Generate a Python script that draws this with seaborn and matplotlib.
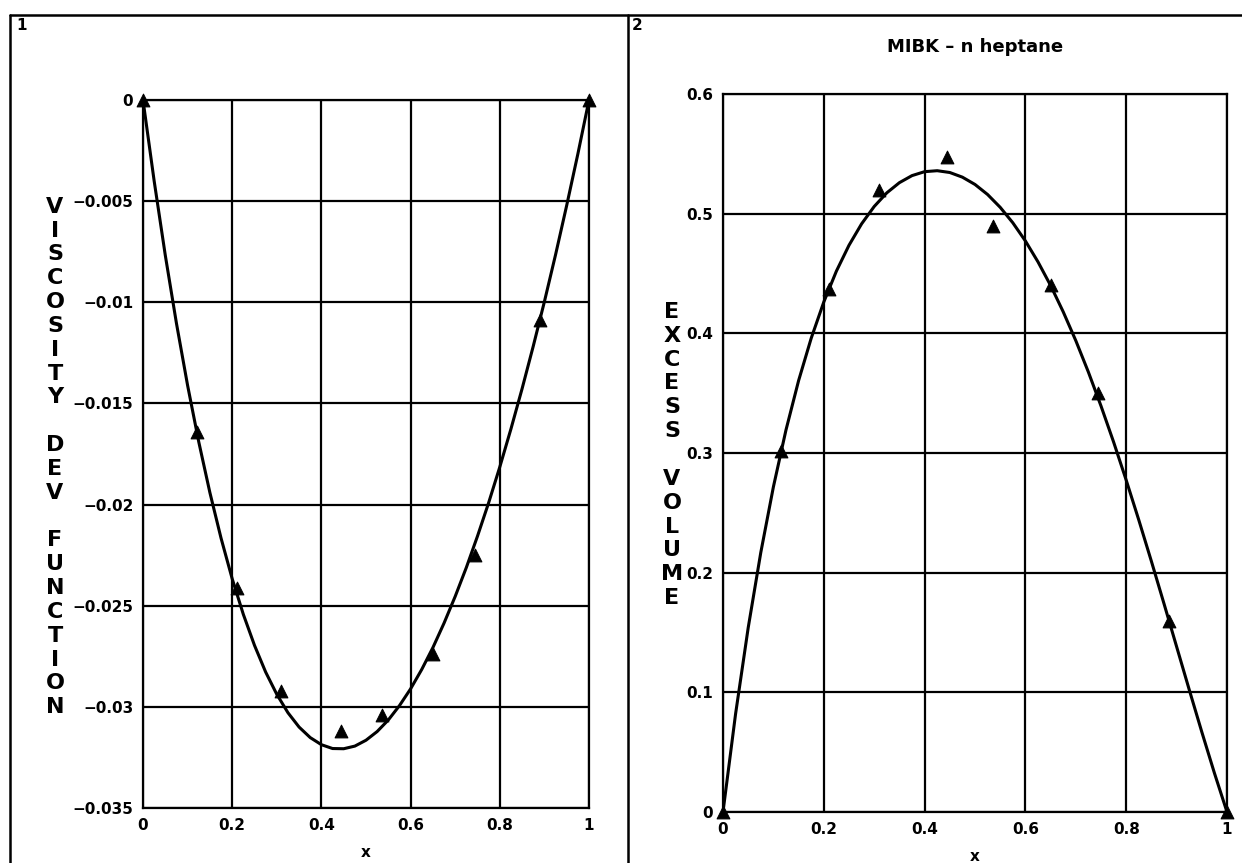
import matplotlib
matplotlib.use("Agg")
import matplotlib.pyplot as plt
import seaborn as sns
import pandas as pd
from matplotlib.lines import Line2D
from matplotlib.ticker import FuncFormatter, MultipleLocator

# ---------------- data ----------------
# Panel 1: viscosity deviation function
visc_x_pts = [0.0, 0.12, 0.21, 0.31, 0.445, 0.535, 0.65, 0.745, 0.89, 1.0]
visc_y_pts = [0.0, -0.0164, -0.0241, -0.0292, -0.0312, -0.0304, -0.0274, -0.0225, -0.0109, 0.0]
fit_x = [0.0, 0.025, 0.05, 0.075, 0.1, 0.125, 0.15, 0.175, 0.2, 0.225, 0.25, 0.275,
         0.3, 0.325, 0.35, 0.375, 0.4, 0.425, 0.45, 0.475, 0.5, 0.525, 0.55, 0.575,
         0.6, 0.625, 0.65, 0.675, 0.7, 0.725, 0.75, 0.775, 0.8, 0.825, 0.85, 0.875,
         0.9, 0.925, 0.95, 0.975, 1.0]
visc_y_fit = [0.0, -0.00400, -0.00768, -0.01104, -0.01411, -0.01690, -0.01941, -0.02166,
              -0.02367, -0.02543, -0.02696, -0.02828, -0.02938, -0.03029, -0.03100,
              -0.03152, -0.03187, -0.03206, -0.03207, -0.03194, -0.03165, -0.03122,
              -0.03065, -0.02994, -0.02911, -0.02815, -0.02707, -0.02586, -0.02454,
              -0.02311, -0.02156, -0.01991, -0.01814, -0.01626, -0.01427, -0.01217,
              -0.00997, -0.00765, -0.00521, -0.00267, 0.0]

# Panel 2: excess volume, MIBK - n heptane
vol_x_pts = [0.0, 0.115, 0.21, 0.31, 0.445, 0.535, 0.65, 0.745, 0.885, 1.0]
vol_y_pts = [0.0, 0.302, 0.437, 0.52, 0.547, 0.49, 0.44, 0.35, 0.16, 0.0]
vol_y_fit = [0.0, 0.0821, 0.1540, 0.2169, 0.2717, 0.3193, 0.3605, 0.3959, 0.4262,
             0.4520, 0.4736, 0.4915, 0.5060, 0.5174, 0.5259, 0.5318, 0.5351, 0.5359,
             0.5344, 0.5305, 0.5244, 0.5160, 0.5053, 0.4924, 0.4772, 0.4597, 0.4400,
             0.4180, 0.3939, 0.3676, 0.3393, 0.3092, 0.2773, 0.2440, 0.2095, 0.1741,
             0.1382, 0.1023, 0.0669, 0.0326, 0.0]

x_ticks = [0, 0.2, 0.4, 0.6, 0.8, 1.0]
visc_label = "VISCOSITY DEV FUNCTION"
vol_label = "EXCESS VOLUME"
title2 = "MIBK \u2013 n heptane"
x_label = "x"

# ---------------- style ----------------
sns.set_theme(style="white")
plt.rcParams["font.family"] = ["DejaVu Sans"]
plt.rcParams["font.weight"] = "bold"
plt.rcParams["text.color"] = "black"
plt.rcParams["axes.labelcolor"] = "black"
plt.rcParams["xtick.color"] = "black"
plt.rcParams["ytick.color"] = "black"

W, H = 1242, 863
fig = plt.figure(figsize=(W / 100, H / 100), dpi=100)
fig.patch.set_facecolor("white")


def px_axes(x0, y0, x1, y1):
    return fig.add_axes([x0 / W, 1 - y1 / H, (x1 - x0) / W, (y1 - y0) / H])


ax1 = px_axes(143, 100, 589, 808)
ax2 = px_axes(723, 94, 1227, 812)

LW_GRID = 1.6
LW_CURVE = 2.2


def fmt(v, pos):
    if abs(v) < 1e-12:
        return "0"
    s = f"{v:g}"
    return s.replace("-", "\u2212")


def vertical(text):
    return "\n".join(" " if c == " " else c for c in text)


def style_axes(ax, ylo, yhi, ystep):
    ax.set_xlim(0, 1)
    ax.set_ylim(ylo, yhi)
    ax.set_xticks(x_ticks)
    ax.yaxis.set_major_locator(MultipleLocator(ystep))
    ax.xaxis.set_major_formatter(FuncFormatter(fmt))
    ax.yaxis.set_major_formatter(FuncFormatter(fmt))
    ax.grid(True, color="black", linewidth=LW_GRID)
    for sp in ax.spines.values():
        sp.set_color("black")
        sp.set_linewidth(LW_GRID)
    ax.tick_params(axis="both", which="major", direction="out", length=5, width=LW_GRID,
                   color="black", labelcolor="black", labelsize=11, pad=2)
    for lab in ax.get_xticklabels() + ax.get_yticklabels():
        lab.set_fontweight("bold")
    ax.set_facecolor("white")


# Panel 1
df1_fit = pd.DataFrame({"x": fit_x, "y": visc_y_fit})
df1_pts = pd.DataFrame({"x": visc_x_pts, "y": visc_y_pts})
sns.lineplot(data=df1_fit, x="x", y="y", ax=ax1, color="black", linewidth=LW_CURVE, sort=True)
sns.scatterplot(data=df1_pts, x="x", y="y", ax=ax1, marker="^", color="black",
                edgecolor="black", s=85, zorder=5, clip_on=False)
style_axes(ax1, -0.035, 0.0, 0.005)
ax1.set_xlabel(x_label, fontsize=11, fontweight="bold", labelpad=9, color="black")
ax1.set_ylabel("")
fig.text(55 / W, 1 - 457 / H, vertical(visc_label), ha="center", va="center",
         fontsize=16, fontweight="bold", linespacing=1.24, color="black")

# Panel 2
df2_fit = pd.DataFrame({"x": fit_x, "y": vol_y_fit})
df2_pts = pd.DataFrame({"x": vol_x_pts, "y": vol_y_pts})
sns.lineplot(data=df2_fit, x="x", y="y", ax=ax2, color="black", linewidth=LW_CURVE, sort=True)
sns.scatterplot(data=df2_pts, x="x", y="y", ax=ax2, marker="^", color="black",
                edgecolor="black", s=85, zorder=5, clip_on=False)
style_axes(ax2, 0.0, 0.6, 0.1)
ax2.set_xlabel(x_label, fontsize=11, fontweight="bold", labelpad=9, color="black")
ax2.set_ylabel("")
ax2.set_title(title2, fontsize=13, fontweight="bold", pad=30, color="black")
fig.text(672 / W, 1 - 455 / H, vertical(vol_label), ha="center", va="center",
         fontsize=16, fontweight="bold", linespacing=1.24, color="black")

# Panel frames and numbers
lw_frame = 1.8
fig.add_artist(Line2D([10 / W, 1.0], [1 - 15 / H, 1 - 15 / H], color="black", lw=lw_frame,
                      transform=fig.transFigure))
fig.add_artist(Line2D([10 / W, 10 / W], [1 - 15 / H, 0], color="black", lw=lw_frame,
                      transform=fig.transFigure))
fig.add_artist(Line2D([628 / W, 628 / W], [1 - 15 / H, 0], color="black", lw=lw_frame,
                      transform=fig.transFigure))
fig.text(16 / W, 1 - 26 / H, "1", ha="left", va="center", fontsize=11, fontweight="bold",
         color="black")
fig.text(632 / W, 1 - 25 / H, "2", ha="left", va="center", fontsize=11, fontweight="bold",
         color="black")

fig.savefig("out.png", dpi=100, facecolor="white")
